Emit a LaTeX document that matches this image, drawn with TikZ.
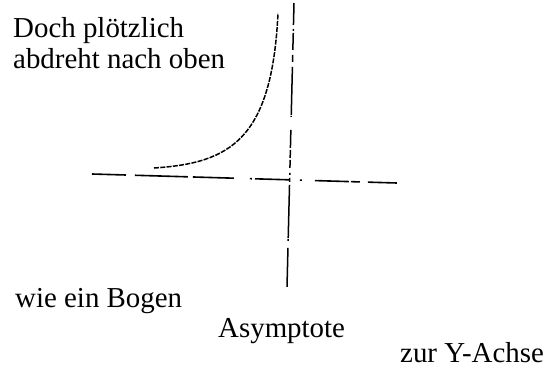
\documentclass[tikz,border=0pt]{standalone}
\usepackage{fontspec}
\setmainfont{Liberation Serif}
\usepackage{tikz}
\usetikzlibrary{positioning}

\begin{document}
\begin{tikzpicture}[x=1pt,y=-1pt,
    lbl/.style={anchor=base west,inner sep=0pt,font=\fontsize{28.9}{33}\selectfont},
    asymh/.style={line width=1.6pt,dash pattern=on 34pt off 9pt on 53pt off 5pt on 41pt off 16pt on 2pt off 3pt on 35pt off 10pt on 2pt off 13pt on 34pt off 2pt on 9pt off 8pt on 29pt off 10pt},
    asymv/.style={line width=1.5pt,dash pattern=on 22pt off 4pt on 2pt off 2pt on 17pt off 5pt on 7pt off 5pt on 48pt off 1pt on 1pt off 13pt on 18pt off 2pt on 8pt off 2pt on 8pt off 5pt on 2pt off 3pt on 4pt off 3pt on 53pt off 1pt on 2pt off 7pt on 39pt off 10pt},
    bogen/.style={line width=1.5pt,dash pattern=on 5pt off 1.3pt}]
        \useasboundingbox (0,0) rectangle (552,378);
        \node[lbl] (doch) at (13,37) {Doch plötzlich};
        \node[lbl] (abdr) at (13,68) {abdreht nach oben};
        \node[lbl] (wie) at (15,307) {wie ein Bogen};
        \node[lbl] (asy) at (218,337) {Asymptote};
        \node[lbl] (zur) at (400,362) {zur Y-Achse};
        \coordinate (hl) at (92,174);
        \coordinate (hr) at (397,183);
        \coordinate (vt) at (294,3);
        \coordinate (vb) at (287,287);
        \coordinate (cs) at (154,168);
        \coordinate (ce) at (278,13);
        \draw[asymh] (hl) -- (hr);
        \draw[asymv] (vt) -- (vb);
        \draw[bogen] (cs) .. controls (230,163) and (272,140) .. (ce);
      \end{tikzpicture}
\end{document}
